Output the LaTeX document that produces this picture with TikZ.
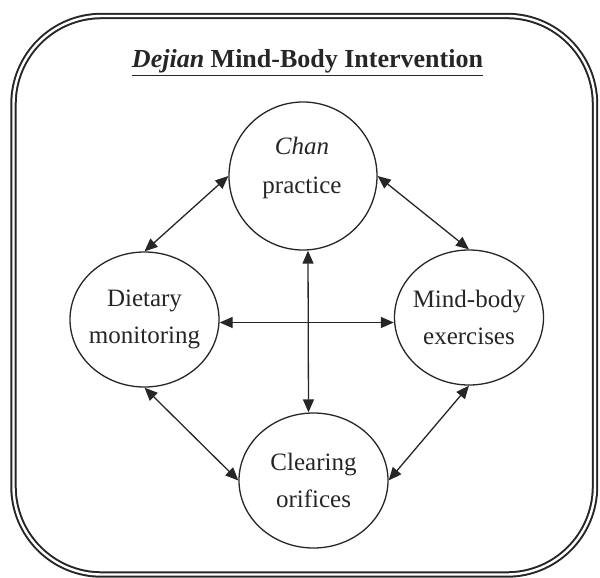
\documentclass[tikz,border=0pt]{standalone}
\usepackage{fontspec}
\setmainfont{Liberation Serif}
\usetikzlibrary{arrows.meta,shapes.geometric}
\begin{document}
\begin{tikzpicture}[x=1pt,y=-1pt,
  bubble/.style={draw=black!85, line width=1.3pt, ellipse, inner sep=-12pt,
    minimum width=149pt, minimum height=135pt, align=center, text=black!85,
    font=\fontsize{25}{37}\selectfont},
  round/.style={draw=black!85, line width=1.3pt, circle, inner sep=0pt, minimum size=148pt},
  label/.style={align=center, text=black!85, font=\fontsize{25}{39}\selectfont, inner sep=0pt},
  link/.style={draw=black!85, line width=1.3pt,
    {Triangle[length=13pt,width=11pt]}-{Triangle[length=13pt,width=11pt]}},
  frame/.style={draw=black!85, line width=2pt, double=white, double distance=2.4pt,
    rounded corners=88pt}]
\useasboundingbox (0,0) rectangle (600,578);
\draw[frame] (13.5,16) rectangle (595,574.5);
\node[anchor=base, text=black!85, inner sep=0pt, font=\fontsize{26}{30}\selectfont\bfseries]
  (title) at (307.5,68) {\underline{\textit{Dejian} Mind-Body Intervention}};
\node[round] (chan) at (303,176) {};
\node[label] (chantext) at (302,168) {\textit{Chan}\\practice};
\node[bubble] (diet) at (144.5,319.5) {Dietary\\monitoring};
\node[bubble] (mind) at (469,317.5) {Mind-body\\exercises};
\node[bubble] (clear) at (313.5,480.5) {Clearing\\orifices};
\draw[link] (chan.west) -- (diet.north);
\draw[link] (chan.east) -- (mind.north);
\draw[link] (diet.south) -- (clear.west);
\draw[link] (mind.south) -- (clear.east);
\draw[link] ([xshift=5pt]chan.south) -- ([xshift=-5pt]clear.north);
\draw[link] ([yshift=-3pt]diet.east) -- ([yshift=-5pt]mind.west);
\end{tikzpicture}
\end{document}
